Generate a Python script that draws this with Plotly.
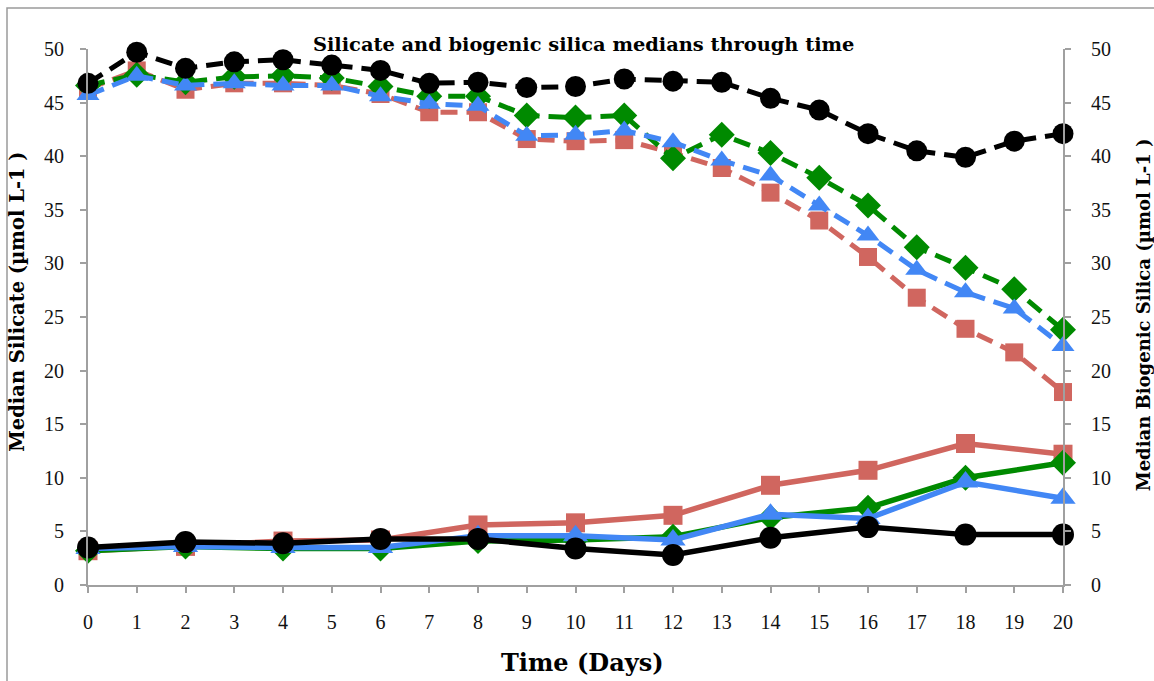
import plotly.graph_objects as go

days_all = list(range(0, 21))
days_even = list(range(0, 21, 2))
x_tick_labels = [str(d) for d in days_all]
y_ticks = [0, 5, 10, 15, 20, 25, 30, 35, 40, 45, 50]

# Dashed series (Median Silicate) - every day
silicate_red = [46.3, 48.0, 46.2, 46.8, 46.8, 46.6, 45.8, 44.1, 44.1, 41.6, 41.4,
                41.5, 40.3, 38.9, 36.6, 34.0, 30.6, 26.8, 23.9, 21.7, 18.0]
silicate_green = [46.6, 47.6, 46.9, 47.4, 47.5, 47.3, 46.5, 45.6, 45.6, 43.8, 43.6,
                  43.8, 39.8, 42.0, 40.3, 38.0, 35.4, 31.5, 29.6, 27.6, 23.8]
silicate_blue = [45.7, 47.5, 46.6, 46.8, 46.6, 46.6, 45.6, 44.9, 44.7, 41.9, 42.0,
                 42.4, 41.3, 39.6, 38.2, 35.4, 32.6, 29.4, 27.3, 25.8, 22.3]
silicate_black = [46.8, 49.7, 48.2, 48.8, 49.0, 48.5, 48.0, 46.8, 46.9, 46.4, 46.5,
                  47.2, 47.0, 46.9, 45.4, 44.3, 42.1, 40.5, 39.9, 41.4, 42.1]

# Solid series (Median Biogenic Silica) - even days
bsi_red = [3.2, 3.6, 4.1, 4.2, 5.6, 5.8, 6.5, 9.3, 10.7, 13.2, 12.2]
bsi_green = [3.2, 3.6, 3.4, 3.4, 4.1, 4.2, 4.5, 6.3, 7.2, 10.0, 11.4]
bsi_blue = [3.4, 3.6, 3.5, 3.5, 4.6, 4.6, 4.2, 6.6, 6.2, 9.6, 8.1]
bsi_black = [3.5, 4.0, 3.9, 4.3, 4.3, 3.4, 2.8, 4.4, 5.4, 4.7, 4.7]

RED = "#D0665F"
GREEN = "#008A00"
BLUE = "#4287F5"
BLACK = "#000000"
FONT = "Liberation Serif"
TFONT = "DejaVu Serif"

fig = go.Figure()

dash_style = "17px,9px"
for name, ys, col, sym, sz in [
    ("Silicate red", silicate_red, RED, "square", 18),
    ("Silicate green", silicate_green, GREEN, "diamond", 20),
    ("Silicate blue", silicate_blue, BLUE, "triangle-up", 20),
    ("Silicate black", silicate_black, BLACK, "circle", 21),
]:
    fig.add_trace(go.Scatter(
        x=days_all, y=ys, mode="lines+markers", name=name,
        line=dict(color=col, width=5, dash=dash_style),
        marker=dict(symbol=sym, size=sz, color=col),
        cliponaxis=False,
    ))

for name, ys, col, sym, sz in [
    ("BSi red", bsi_red, RED, "square", 19),
    ("BSi green", bsi_green, GREEN, "diamond", 20),
    ("BSi blue", bsi_blue, BLUE, "triangle-up", 22),
    ("BSi black", bsi_black, BLACK, "circle", 22),
]:
    fig.add_trace(go.Scatter(
        x=days_even, y=ys, mode="lines+markers", name=name,
        line=dict(color=col, width=5.5),
        marker=dict(symbol=sym, size=sz, color=col),
        cliponaxis=False, yaxis="y2",
    ))

axis_common = dict(
    range=[0, 50], tickvals=y_ticks, ticktext=[str(v) for v in y_ticks],
    showgrid=False, zeroline=False, showline=True, linecolor="#A0A0A0",
    linewidth=2, ticks="outside", ticklen=6, tickwidth=2, tickcolor="#A0A0A0",
    tickfont=dict(family=FONT, size=20, color="#111111"),
)

fig.update_layout(
    width=1154, height=681,
    margin=dict(l=88, r=91, t=49, b=96),
    paper_bgcolor="white", plot_bgcolor="white",
    showlegend=False,
    xaxis=dict(
        range=[0, 20], tickvals=days_all, ticktext=x_tick_labels,
        showgrid=False, zeroline=False, showline=True, linecolor="#A0A0A0",
        linewidth=2, ticks="outside", ticklen=6, tickwidth=2, tickcolor="#A0A0A0",
        tickfont=dict(family=FONT, size=20, color="#111111"),
        ticklabelstandoff=12,
    ),
    yaxis=dict(axis_common, ticklabelstandoff=12),
    yaxis2=dict(axis_common, overlaying="y", side="right", ticklabelstandoff=16),
    annotations=[
        dict(text="<b>Silicate and biogenic silica medians through time</b>",
             xref="paper", yref="paper", x=0.508, y=1.008, xanchor="center", yanchor="middle",
             showarrow=False, font=dict(family=TFONT, size=19.4, color="black")),
        dict(text="<b>Time (Days)</b>", xref="paper", yref="paper",
             x=0.507, y=-0.145, xanchor="center", yanchor="middle",
             showarrow=False, font=dict(family=TFONT, size=24, color="black")),
        dict(text="<b>Median Silicate (µmol L-1 )</b>", xref="paper", yref="paper",
             x=-0.072, y=0.528, xanchor="center", yanchor="middle", textangle=-90,
             showarrow=False, font=dict(family=TFONT, size=19.5, color="black")),
        dict(text="<b>Median Biogenic Silica (µmol L-1 )</b>", xref="paper", yref="paper",
             x=1.082, y=0.505, xanchor="center", yanchor="middle", textangle=-90,
             showarrow=False, font=dict(family=TFONT, size=18, color="black")),
    ],
    shapes=[
        dict(type="rect", xref="paper", yref="paper",
             x0=(7 - 88) / 975, x1=1.5, y0=-0.5, y1=(585 - 8) / 536,
             line=dict(color="#9A9A9A", width=1.5), fillcolor="rgba(0,0,0,0)", layer="below"),
    ],
)

fig.write_html("out.html")
